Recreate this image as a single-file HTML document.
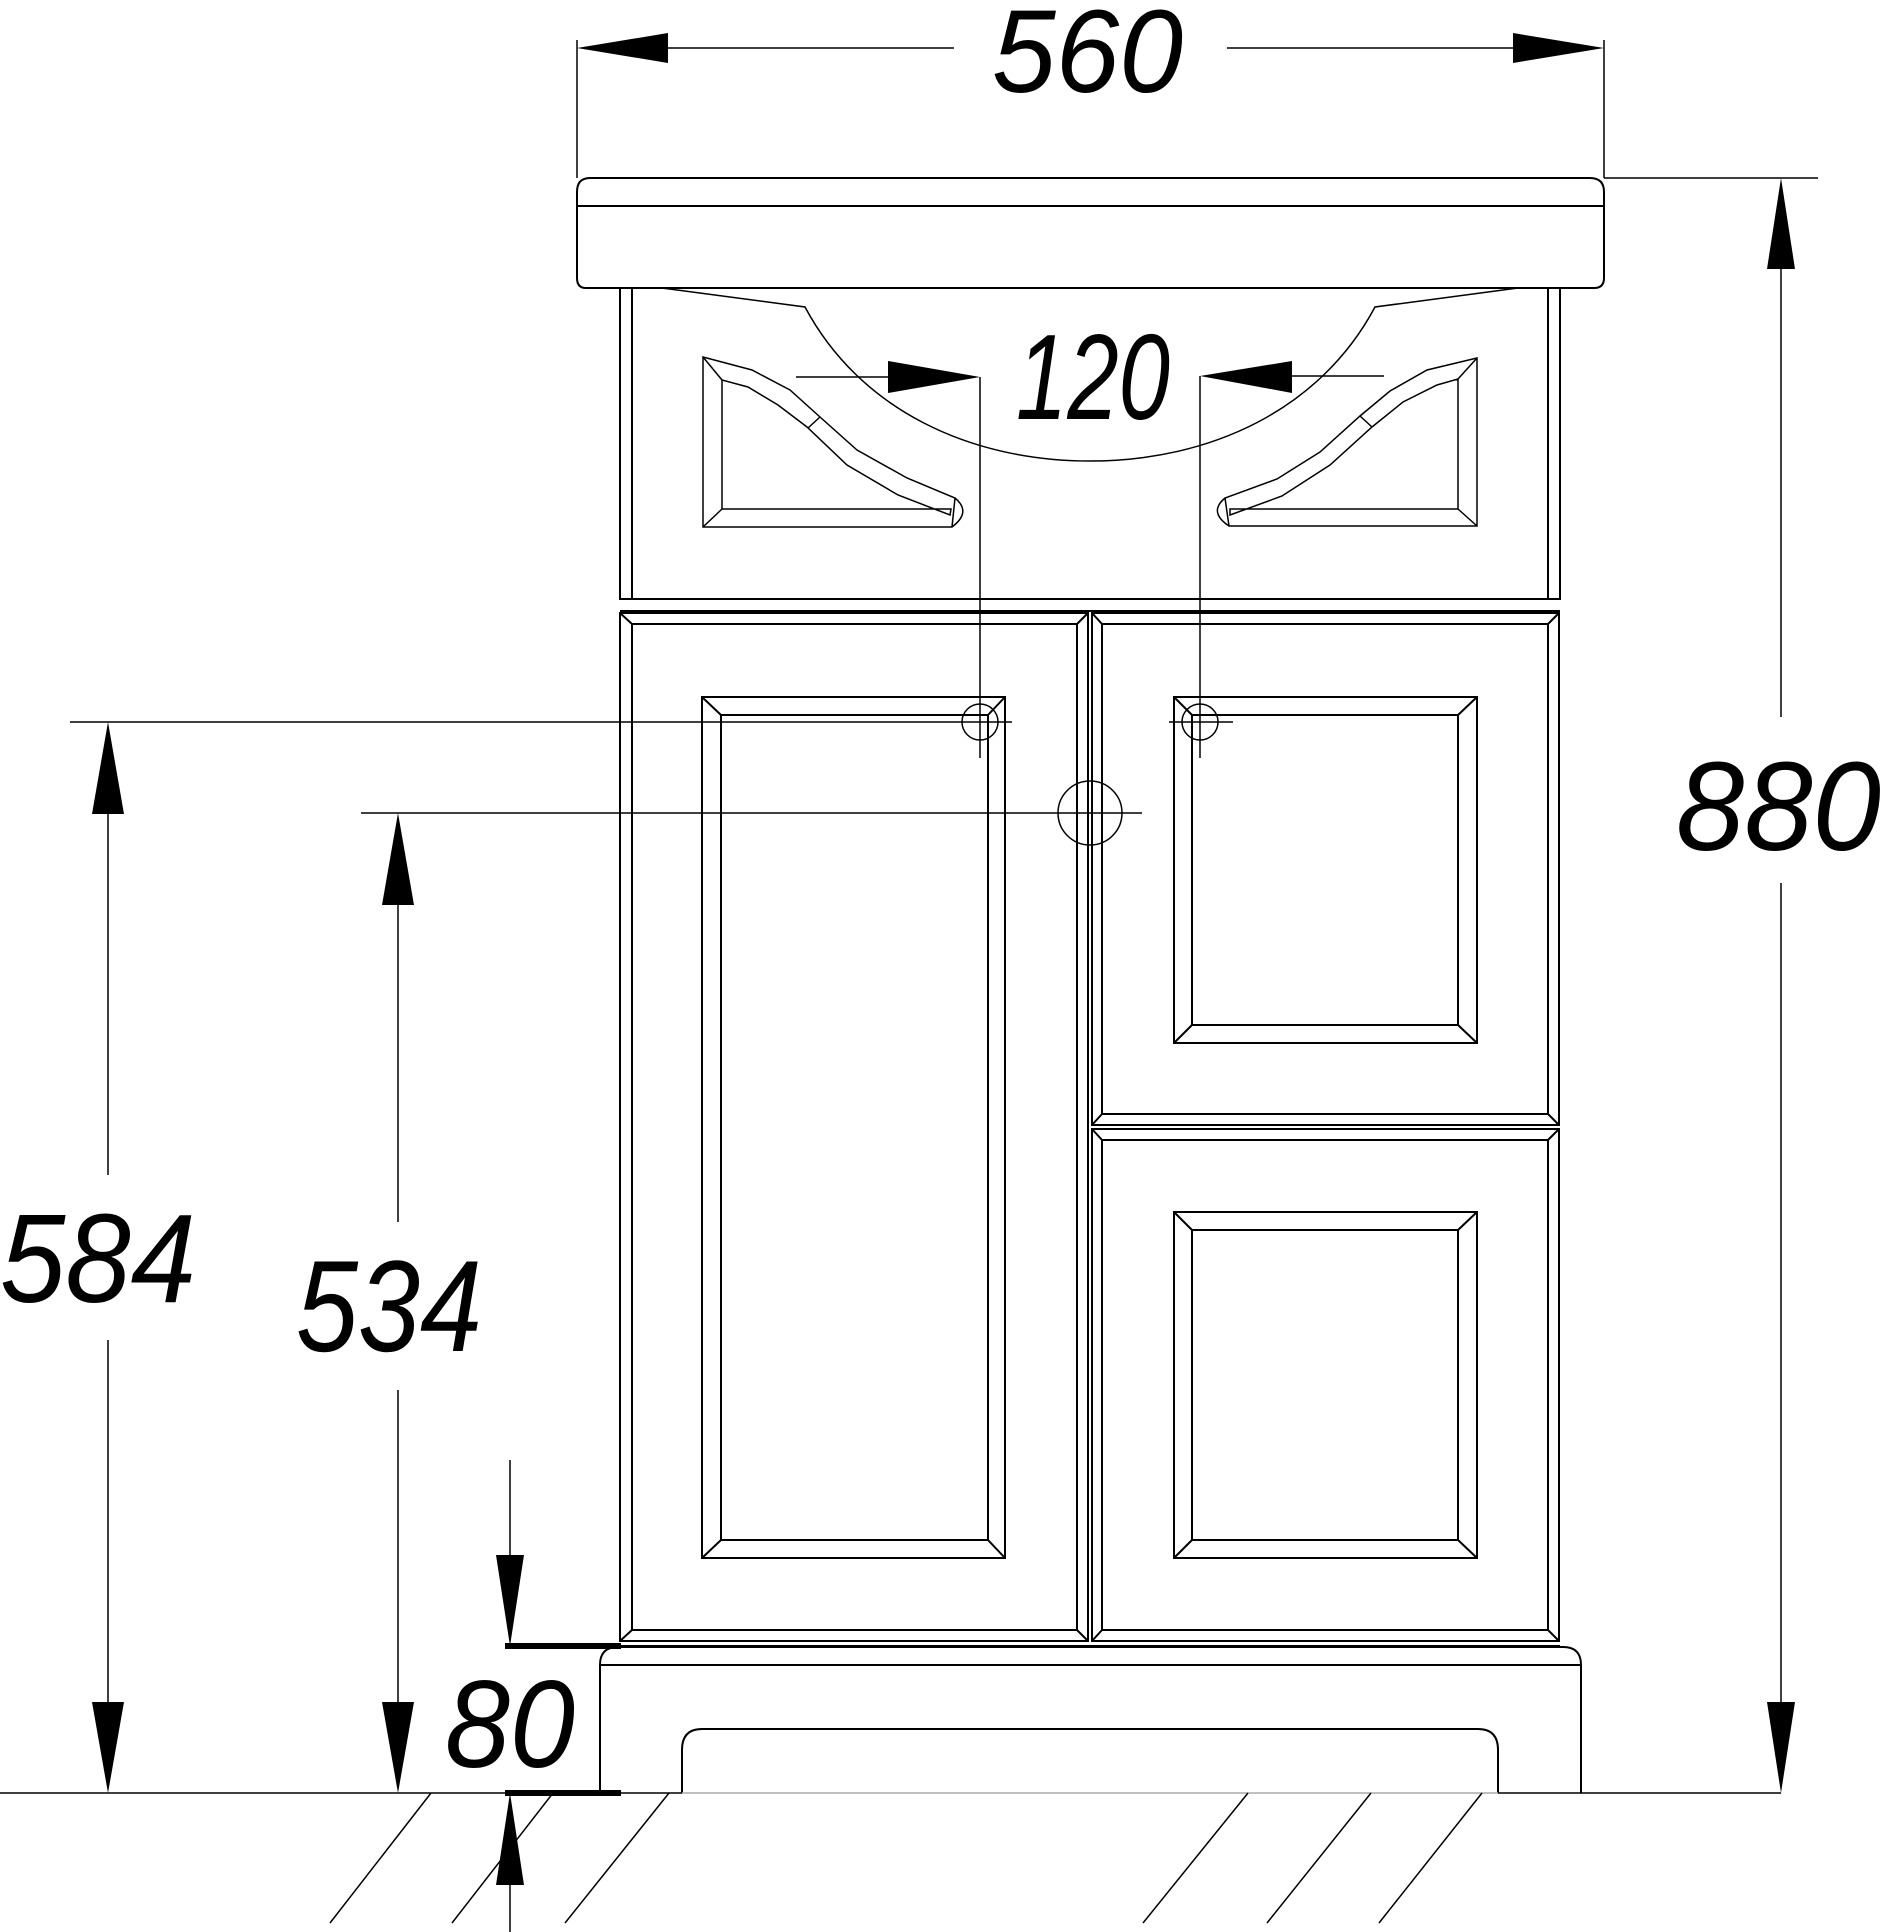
<!DOCTYPE html>
<html><head><meta charset="utf-8"><style>
html,body{margin:0;padding:0;background:#fff}
svg{display:block}
text{font-family:"Liberation Sans",sans-serif;font-style:italic;fill:#000}
</style></head><body>
<svg width="1884" height="1932" viewBox="0 0 1884 1932" xmlns="http://www.w3.org/2000/svg">
<g fill="none" stroke="#000" stroke-width="2">
<path d="M590,178 H1590 Q1604,178 1604,192 V278 Q1604,288 1594,288 H586 Q577,288 577,278 V192 Q577,178 590,178 Z"/>
<line x1="577" y1="206" x2="1604" y2="206"/>
<rect x="620" y="288" width="940" height="311"/>
<line x1="632" y1="288" x2="632" y2="599"/>
<line x1="1548" y1="288" x2="1548" y2="599"/>
<line x1="620" y1="611" x2="1560" y2="611"/>
<rect x="620" y="613" width="468" height="1028"/>
<rect x="632" y="624" width="445" height="1006"/>
<path d="M620,613 L632,624 M1088,613 L1077,624 M620,1641 L632,1630 M1088,1641 L1077,1630"/>
<rect x="1092" y="613" width="467" height="512"/>
<rect x="1102" y="624" width="446" height="490"/>
<path d="M1092,613 L1102,624 M1559,613 L1548,624 M1092,1125 L1102,1114 M1559,1125 L1548,1114"/>
<rect x="1092" y="1129" width="467" height="512"/>
<rect x="1102" y="1140" width="446" height="490"/>
<path d="M1092,1129 L1102,1140 M1559,1129 L1548,1140 M1092,1641 L1102,1630 M1559,1641 L1548,1630"/>
<line x1="620" y1="1646" x2="1560" y2="1646"/>
<rect x="702" y="697" width="303" height="861"/>
<rect x="721" y="715" width="267" height="825"/>
<path d="M702,697 L721,715 M1005,697 L988,715 M702,1558 L721,1540 M1005,1558 L988,1540"/>
<rect x="1174" y="697" width="303" height="346"/>
<rect x="1192" y="715" width="266" height="310"/>
<path d="M1174,697 L1192,715 M1477,697 L1458,715 M1174,1043 L1192,1025 M1477,1043 L1458,1025"/>
<rect x="1174" y="1212" width="303" height="346"/>
<rect x="1192" y="1230" width="266" height="310"/>
<path d="M1174,1212 L1192,1230 M1477,1212 L1458,1230 M1174,1558 L1192,1540 M1477,1558 L1458,1540"/>
<path d="M600,1793 V1665 Q600,1647 618,1647 H1563 Q1581,1647 1581,1665 V1793"/>
<line x1="600" y1="1665" x2="1581" y2="1665"/>
<path d="M682,1793 V1750 Q682,1729 702,1729 H1478 Q1498,1729 1498,1750 V1793"/>
</g>
<g fill="none" stroke="#000" stroke-width="1.5">
<path d="M662,288 L805,307 C860,410 970,461 1090,461 C1210,461 1320,410 1375,307 L1518,288"/>
<path d="M703,357 L752,370 L790,390 L820,417 L857,450 L907,478 L955,498 Q972,512 952,527 H703 Z"/>
<path d="M722,380 L748,387 L778,405 L807,427 L847,465 L898,495 L950,515 L951,509 H722 Z"/>
<path d="M703,357 L722,380 M703,527 L722,509 M808,428 L820,417 M955,498 L952,527"/>
<path d="M1477,358 L1427,370 L1390,391 L1360,416 L1320,452 L1277,479 L1225,498 Q1208,512 1229,526 H1477 Z"/>
<path d="M1458,379 L1437,385 L1403,402 L1372,427 L1330,465 L1282,496 L1230,515 L1230,509 H1458 Z"/>
<path d="M1477,358 L1458,379 M1477,526 L1458,509 M1360,416 L1372,427 M1225,498 L1229,526"/>
<circle cx="980" cy="722" r="18"/>
<circle cx="1200" cy="722" r="18"/>
<circle cx="1090" cy="813" r="32"/>
<line x1="577" y1="40" x2="577" y2="178"/>
<line x1="1604" y1="40" x2="1604" y2="178"/>
<line x1="1604" y1="178" x2="1818" y2="178"/>
<line x1="980" y1="377" x2="980" y2="758"/>
<line x1="1200" y1="376" x2="1200" y2="758"/>
<line x1="70" y1="722" x2="1012" y2="722"/>
<line x1="1169" y1="722" x2="1233" y2="722"/>
<line x1="361" y1="813" x2="1142" y2="813"/>
<line x1="600" y1="48" x2="954" y2="48"/>
<line x1="1227" y1="48" x2="1590" y2="48"/>
<line x1="796" y1="377" x2="900" y2="377"/>
<line x1="1280" y1="376" x2="1384" y2="376"/>
<line x1="1781" y1="190" x2="1781" y2="717"/>
<line x1="1781" y1="883" x2="1781" y2="1780"/>
<line x1="108" y1="735" x2="108" y2="1175"/>
<line x1="108" y1="1340" x2="108" y2="1780"/>
<line x1="398" y1="825" x2="398" y2="1222"/>
<line x1="398" y1="1390" x2="398" y2="1780"/>
<line x1="510" y1="1460" x2="510" y2="1560"/>
<line x1="510" y1="1880" x2="510" y2="1932"/>
<line x1="0" y1="1793" x2="682" y2="1793"/>
<line x1="1498" y1="1793" x2="1781" y2="1793"/>
<line x1="682" y1="1793" x2="1498" y2="1793" stroke="#aaa"/>
<path d="M431,1793 L330,1923 M553,1793 L452,1923 M669,1793 L565,1923 M1248,1793 L1143,1923 M1371,1793 L1267,1923 M1482,1793 L1379,1923"/>
</g>
<g stroke="#000" stroke-width="6"><line x1="505" y1="1646" x2="621" y2="1646"/><line x1="505" y1="1793" x2="621" y2="1793"/></g>
<g fill="#000">
<polygon points="577,48 668,33 668,63"/>
<polygon points="1604,48 1513,33 1513,63"/>
<polygon points="980,377 888,361 888,393"/>
<polygon points="1200,376 1292,361 1292,393"/>
<polygon points="1781,178 1767,269 1795,269"/>
<polygon points="1781,1793 1767,1702 1795,1702"/>
<polygon points="108,722 92,814 124,814"/>
<polygon points="108,1793 92,1702 124,1702"/>
<polygon points="398,813 382,905 414,905"/>
<polygon points="398,1793 382,1702 414,1702"/>
<polygon points="510,1646 496,1555 524,1555"/>
<polygon points="510,1793 496,1885 524,1885"/>
</g>
<text x="992" y="92" font-size="118" textLength="191" lengthAdjust="spacingAndGlyphs">560</text>
<text x="1016" y="419" font-size="122" textLength="154" lengthAdjust="spacingAndGlyphs">120</text>
<text x="1676" y="850" font-size="126" textLength="205" lengthAdjust="spacingAndGlyphs">880</text>
<text x="0" y="1302" font-size="126" textLength="196" lengthAdjust="spacingAndGlyphs">584</text>
<text x="296" y="1351" font-size="130" textLength="186" lengthAdjust="spacingAndGlyphs">534</text>
<text x="445" y="1767" font-size="124" textLength="130" lengthAdjust="spacingAndGlyphs">80</text>
</svg>
</body></html>
